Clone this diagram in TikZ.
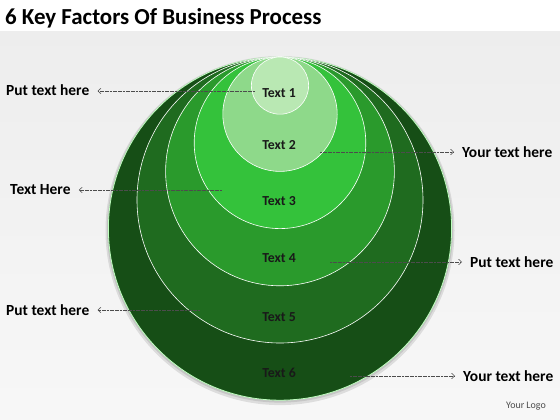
\documentclass[tikz,border=0pt]{standalone}
\usepackage{fontspec}
\setmainfont{Carlito}
\usetikzlibrary{arrows.meta}
\definecolor{ringa}{HTML}{B9E8B3}
\definecolor{ringb}{HTML}{8ED98A}
\definecolor{ringc}{HTML}{34C23B}
\definecolor{ringd}{HTML}{2A9A2C}
\definecolor{ringe}{HTML}{1F6B1F}
\definecolor{ringf}{HTML}{164E16}
\tikzset{
  ringtext/.style={font=\bfseries\fontsize{13.8}{16}\selectfont,text=black!90},
  sidelabel/.style={anchor=west,inner xsep=8bp,font=\bfseries\fontsize{15.5}{18}\selectfont},
  link/.style={->,line width=0.55bp,draw=black!70,dash pattern=on 2bp off 0.6bp},
  ringline/.style={draw=white,line width=0.6bp},
}
\begin{document}
\begin{tikzpicture}[>={Straight Barb[length=3bp,width=5.5bp]},line join=bevel,]
%%
\useasboundingbox (0bp,0bp) rectangle (560bp,420bp);
\begin{scope}
  \definecolor{bgcol}{rgb}{0.93,0.93,0.93};
  \fill[white] (0bp,0bp) rectangle (560bp,420bp);
  \shade[top color=bgcol, bottom color=white!97!black] (0bp,0bp) rectangle (560bp,388bp);
\end{scope}
  \node (title) at (5bp,402bp) [anchor=west,inner sep=0pt,font=\bfseries\fontsize{23}{27}\selectfont] {6 Key Factors Of Business Process};
%
\begin{scope}
  \fill[black,opacity=0.10] (280bp,189.4bp) circle (174.5bp);
  \fill[black,opacity=0.10] (280bp,190.4bp) circle (173bp);
  \draw[fill=ringf,draw=white!75!green,line width=0.8bp] (280bp,191.4bp) circle (171.6bp);
  \draw[fill=ringe,ringline] (280bp,220bp) circle (143bp);
  \draw[fill=ringd,ringline] (280bp,248.6bp) circle (114.4bp);
  \draw[fill=ringc,ringline] (280bp,277.2bp) circle (85.8bp);
  \draw[fill=ringb,ringline] (280bp,305.8bp) circle (57.2bp);
  \draw[fill=ringa,ringline] (280bp,334.4bp) circle (28.6bp);
\end{scope}
  \node (t1) at (279bp,327bp) [ringtext] {Text 1};
  \node (t2) at (279bp,275bp) [ringtext] {Text 2};
  \node (t3) at (279bp,219bp) [ringtext] {Text 3};
  \node (t4) at (279bp,162bp) [ringtext] {Text 4};
  \node (t5) at (279bp,103bp) [ringtext] {Text 5};
  \node (t6) at (279bp,47bp) [ringtext] {Text 6};
%
  \node (puta) at (-2bp,330bp) [sidelabel] {Put text here};
  \node (youra) at (454bp,268bp) [sidelabel] {Your text here};
  \node (here) at (2bp,230bp) [sidelabel] {Text Here};
  \node (putb) at (462bp,158bp) [sidelabel] {Put text here};
  \node (putc) at (-2bp,110bp) [sidelabel] {Put text here};
  \node (yourb) at (455bp,44bp) [sidelabel] {Your text here};
  \coordinate (sa) at (255bp,329bp);
  \coordinate (sb) at (320bp,268bp);
  \coordinate (sc) at (222bp,230bp);
  \coordinate (sd) at (330bp,158bp);
  \coordinate (se) at (200bp,110bp);
  \coordinate (sf) at (350bp,44bp);
  \draw [link] (sa) -- (sa -| puta.east);
  \draw [link] (sb) -- (sb -| youra.west);
  \draw [link] (sc) -- (sc -| here.east);
  \draw [link] (sd) -- (sd -| putb.west);
  \draw [link] (se) -- (se -| putc.east);
  \draw [link] (sf) -- (sf -| yourb.west);
%
  \node (logo) at (526bp,14bp) [font=\fontsize{10}{12}\selectfont,text=black!70] {Your Logo};
\end{tikzpicture}
\end{document}
